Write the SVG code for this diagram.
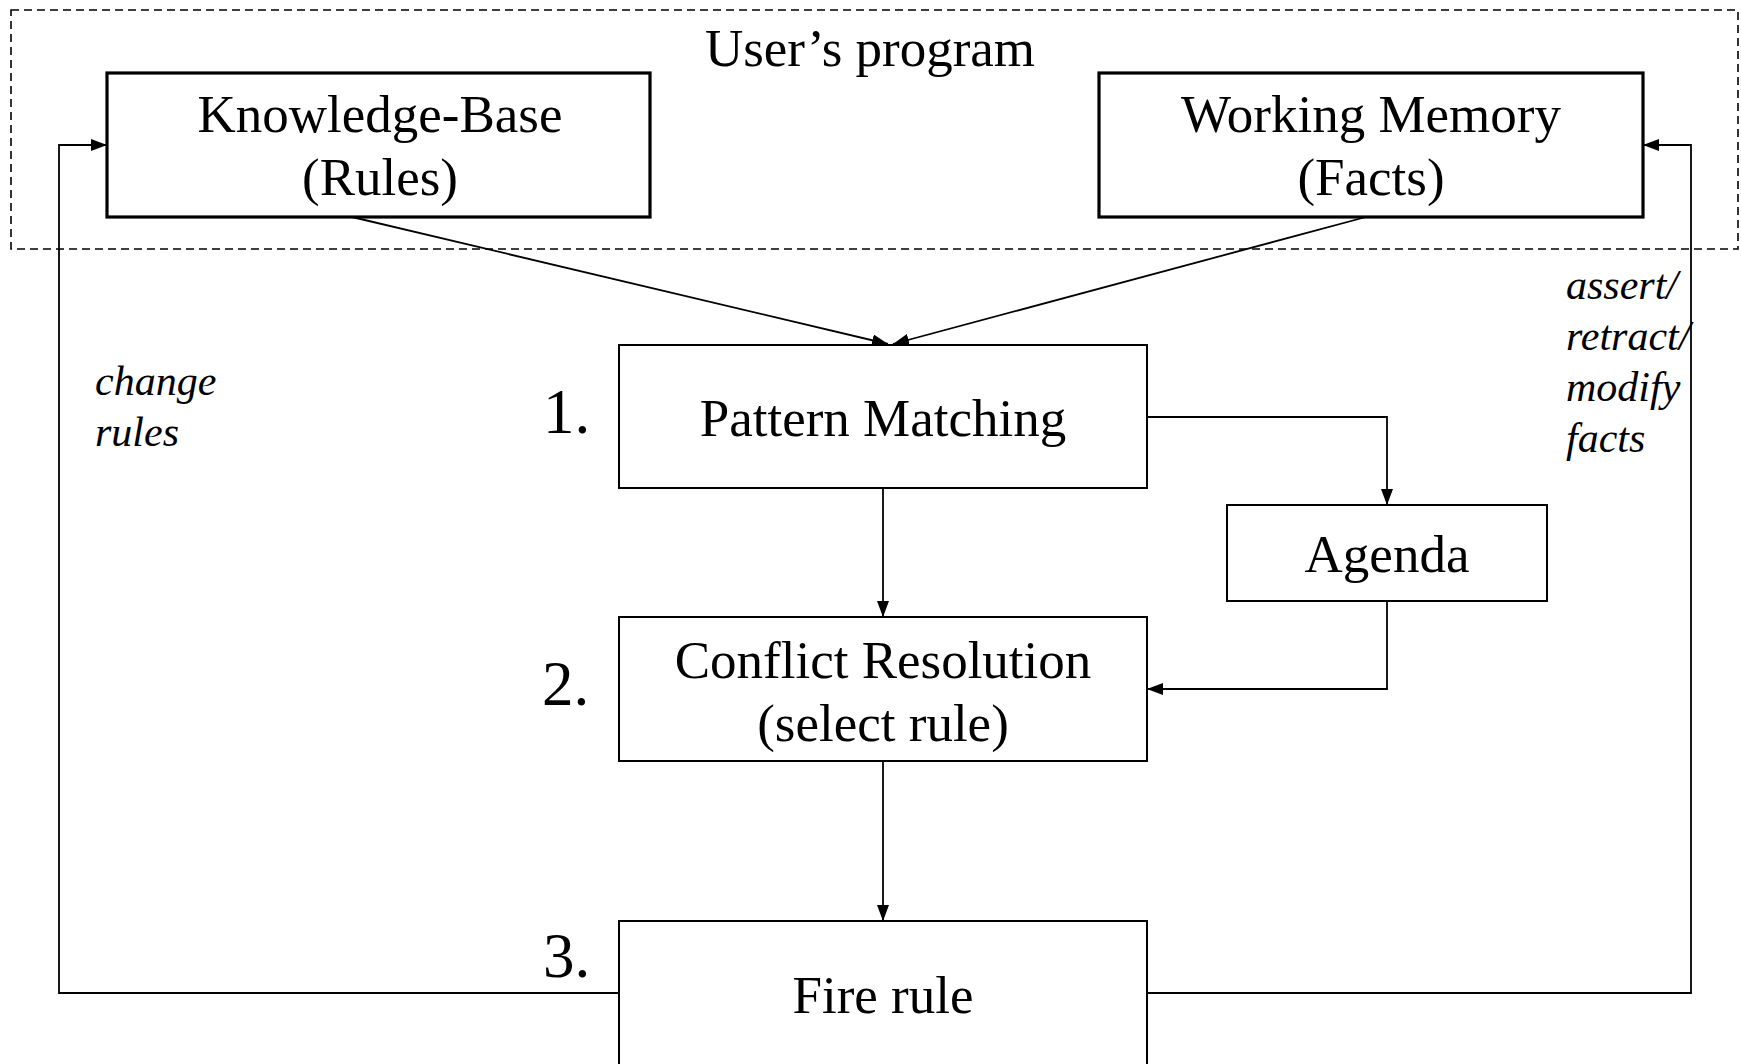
<svg xmlns="http://www.w3.org/2000/svg" width="1741" height="1064" viewBox="0 0 1741 1064">
<style>
.t{font-family:"Liberation Serif","Times New Roman",serif;font-size:53px;fill:#000;text-anchor:middle}
.n{font-family:"Liberation Serif","Times New Roman",serif;font-size:63px;fill:#000}
.i{font-family:"Liberation Serif","Times New Roman",serif;font-size:42px;font-style:italic;fill:#000}
.thick{fill:#fff;stroke:#000;stroke-width:3.2}
.box{fill:#fff;stroke:#000;stroke-width:2}
.c{fill:none;stroke:#000;stroke-width:1.8}
</style>
<defs>
<marker id="ah" viewBox="0 0 16 12" refX="16" refY="6" markerWidth="16" markerHeight="12" markerUnits="userSpaceOnUse" orient="auto">
<path d="M0,0 L16,6 L0,12 Z" fill="#000"/>
</marker>
</defs>
<rect width="1741" height="1064" fill="#fff"/>
<g id="users-program">
<rect x="11" y="10" width="1727" height="239" fill="none" stroke="#000" stroke-width="1.6" stroke-dasharray="8 5"/>
<text class="t" x="870" y="66">User’s program</text>
</g>
<g id="connectors">
<path class="c" d="M352,217 L888,344" marker-end="url(#ah)"/>
<path class="c" d="M1366,217 L893,344" marker-end="url(#ah)"/>
<path class="c" d="M1147,417 L1387,417 L1387,505" marker-end="url(#ah)"/>
<path class="c" d="M1387,601 L1387,689 L1147,689" marker-end="url(#ah)"/>
<path class="c" d="M883,488 L883,617" marker-end="url(#ah)"/>
<path class="c" d="M883,761 L883,921" marker-end="url(#ah)"/>
<path class="c" d="M619,993 L59,993 L59,145 L107,145" marker-end="url(#ah)"/>
<path class="c" d="M1147,993 L1691,993 L1691,145 L1643,145" marker-end="url(#ah)"/>
</g>
<g id="knowledge-base">
<rect class="thick" x="107" y="73" width="543" height="144"/>
<text class="t" x="380" y="132">Knowledge-Base</text>
<text class="t" x="380" y="195">(Rules)</text>
</g>
<g id="working-memory">
<rect class="thick" x="1099" y="73" width="544" height="144"/>
<text class="t" x="1371" y="132">Working Memory</text>
<text class="t" x="1371" y="195">(Facts)</text>
</g>
<g id="pattern-matching">
<rect class="box" x="619" y="345" width="528" height="143"/>
<text class="t" x="883" y="436">Pattern Matching</text>
<text class="n" x="543" y="433">1.</text>
</g>
<g id="agenda">
<rect class="box" x="1227" y="505" width="320" height="96"/>
<text class="t" x="1387" y="572">Agenda</text>
</g>
<g id="conflict-resolution">
<rect class="box" x="619" y="617" width="528" height="144"/>
<text class="t" x="883" y="678">Conflict Resolution</text>
<text class="t" x="883" y="741">(select rule)</text>
<text class="n" x="542" y="705">2.</text>
</g>
<g id="fire-rule">
<rect class="box" x="619" y="921" width="528" height="200"/>
<text class="t" x="883" y="1013">Fire rule</text>
<text class="n" x="543" y="977">3.</text>
</g>
<g id="labels">
<text class="i" x="95" y="395">change</text>
<text class="i" x="95" y="446">rules</text>
<text class="i" x="1566" y="299">assert/</text>
<text class="i" x="1566" y="350">retract/</text>
<text class="i" x="1566" y="401">modify</text>
<text class="i" x="1566" y="452">facts</text>
</g>
</svg>
